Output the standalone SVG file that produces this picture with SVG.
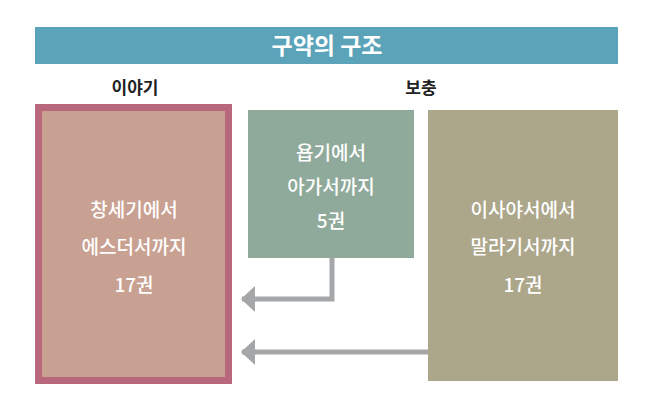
<svg xmlns="http://www.w3.org/2000/svg" width="653" height="418" viewBox="0 0 653 418">
<style>
text{font-family:"Noto Sans CJK KR","Noto Sans",sans-serif;text-anchor:middle}
.w{fill:#fff;font-size:19px;font-weight:500}
.l{fill:#222;font-size:17px;font-weight:bold}
.c{stroke:#a4a6a8;stroke-width:5;fill:none}
</style>
<defs><marker id="a" markerUnits="userSpaceOnUse" markerWidth="14" markerHeight="26" refX="13" refY="13" orient="auto"><path d="M0,0 L14,13 L0,26 Z" fill="#a4a6a8"/></marker></defs>
<g id="title"><rect x="35" y="27" width="583" height="37" fill="#5ba3b9"/><text x="327" y="54" fill="#fff" font-size="23" font-weight="bold">구약의 구조</text></g>
<text class="l" x="135" y="94">이야기</text>
<text class="l" x="421" y="94">보충</text>
<g id="left"><rect x="38.5" y="107.5" width="190" height="273" fill="#c9a192" stroke="#b8677c" stroke-width="7"/>
<text class="w" x="134" y="217">창세기에서</text><text class="w" x="134" y="254">에스더서까지</text><text class="w" x="134" y="292">17권</text></g>
<g id="mid"><rect x="248" y="110" width="166" height="148" fill="#8faa9b"/>
<text class="w" x="331" y="160">욥기에서</text><text class="w" x="331" y="194">아가서까지</text><text class="w" x="331" y="228">5권</text></g>
<g id="right"><rect x="428" y="110" width="190" height="271" fill="#aca68b"/>
<text class="w" x="523" y="217">이사야서에서</text><text class="w" x="523" y="254">말라기서까지</text><text class="w" x="523" y="292">17권</text></g>
<g id="connectors">
<path class="c" d="M332,258 V299 H242" marker-end="url(#a)"/>
<path class="c" d="M428,352 H242" marker-end="url(#a)"/>
</g>
</svg>
